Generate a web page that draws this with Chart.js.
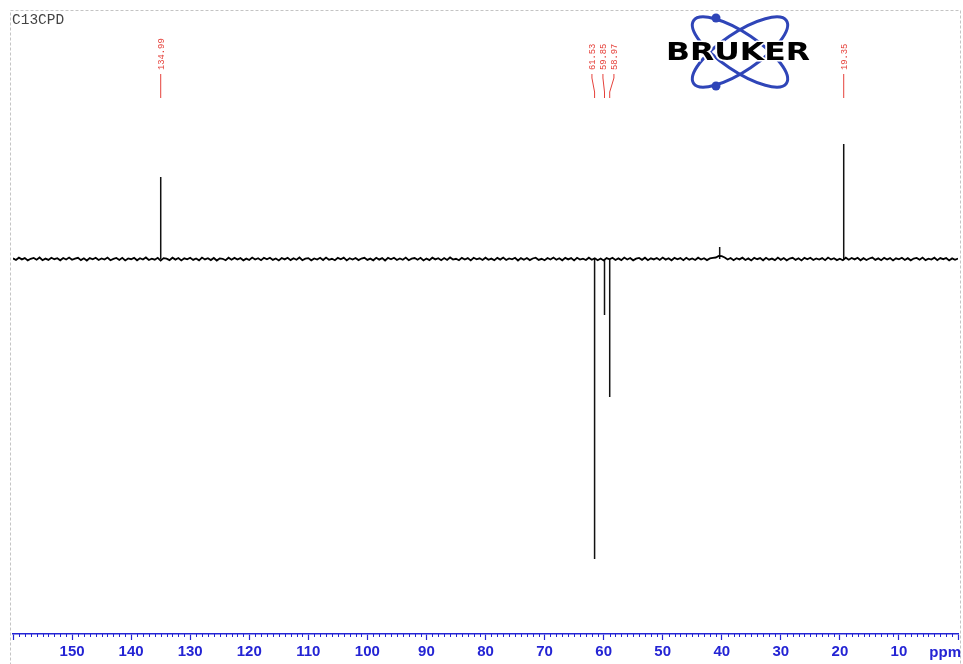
<!DOCTYPE html>
<html>
<head>
<meta charset="utf-8">
<script src="https://cdn.jsdelivr.net/npm/chart.js@4.4.1/dist/chart.umd.min.js"></script>
<style>
  html, body { margin: 0; padding: 0; background: #fff; }
  canvas { display: block; }
</style>
</head>
<body>
<canvas id="nmr" width="963" height="664"></canvas>
<script>
// axis range in ppm (drawn reversed, high ppm on the left)
const ppmMin = 0;
const ppmMax = 160;
const tickLabels = [150, 140, 130, 120, 110, 100, 90, 80, 70, 60, 50, 40, 30, 20, 10];

// picked peaks (positive = CH/CH3, negative = CH2)
const peakPpm = [134.99, 61.53, 59.85, 58.97, 19.35];
const peakHeight = [8.2, -30.0, -5.6, -13.8, 11.5];
const peakLabels = ["134.99", "61.53", "59.85", "58.97", "19.35"];

// small unlabelled solvent signal
const solventPpm = [40.35];
const solventHeight = [1.2];

// baseline, one value per 0.5 ppm from 160 down to 0
const baseStart = 160;
const baseStep = 0.5;
const baseline = [
  0.06, -0.10, 0.13, -0.04, 0.09, -0.14, 0.02, 0.11, -0.07, 0.15, -0.12, 0.04, -0.09, 0.12, -0.02, 0.08, -0.13, 0.10, -0.05, 0.14,
  -0.08, 0.03, 0.12, -0.11, 0.07, -0.15, 0.09, -0.03, 0.13, -0.10, 0.05, -0.06, 0.14, -0.12, 0.01, 0.10, -0.09, 0.12, -0.14, 0.06,
  -0.02, 0.11, -0.13, 0.08, -0.05, 0.15, -0.10, 0.03, -0.07, 0.12, -0.16, 0.09, 0.04, -0.11, 0.13, -0.06, 0.10, -0.14, 0.07, -0.03,
  0.12, -0.09, 0.05, -0.13, 0.14, -0.04, 0.08, -0.11, 0.10, -0.15, 0.06, 0.02, -0.12, 0.13, -0.07, 0.11, -0.05, 0.09, -0.13, 0.04,
  -0.10, 0.14, -0.06, 0.07, -0.12, 0.11, -0.02, 0.13, -0.09, 0.05, -0.14, 0.10, -0.04, 0.12, -0.11, 0.08, -0.07, 0.15, -0.12, 0.03,
  0.09, -0.13, 0.06, -0.05, 0.12, -0.10, 0.14, -0.08, 0.02, -0.12, 0.11, -0.03, 0.13, -0.14, 0.07, -0.06, 0.10, -0.11, 0.05, 0.12,
  -0.09, 0.04, -0.13, 0.12, -0.06, 0.09, -0.15, 0.11, -0.02, 0.13, -0.10, 0.06, -0.08, 0.14, -0.12, 0.03, 0.10, -0.07, 0.12, -0.14,
  0.05, -0.11, 0.13, -0.04, 0.08, -0.12, 0.10, -0.09, 0.15, -0.06, 0.02, -0.13, 0.11, -0.05, 0.09, -0.14, 0.12, -0.03, 0.07, -0.10,
  0.13, -0.08, 0.04, -0.12, 0.11, -0.06, 0.14, -0.10, 0.06, -0.03, 0.12, -0.15, 0.09, -0.07, 0.10, -0.11, 0.05, 0.13, -0.09, 0.02,
  -0.12, 0.10, -0.05, 0.14, -0.08, 0.07, -0.13, 0.11, -0.04, 0.09, -0.14, 0.12, -0.06, 0.03, -0.10, 0.13, -0.07, 0.08, -0.12, 0.05,
  -0.15, 0.09, -0.03, 0.12, -0.10, 0.06, -0.11, 0.14, -0.05, 0.10, -0.13, 0.04, 0.11, -0.08, 0.13, -0.12, 0.07, -0.04, 0.10, -0.09,
  0.14, -0.06, 0.08, -0.13, 0.11, -0.03, 0.09, -0.12, 0.12, -0.07, 0.05, -0.10, 0.13, -0.05, 0.08, -0.11, 0.06, 0.12, 0.15, 0.30,
  0.28, 0.15, -0.05, 0.10, -0.12, 0.08, -0.04, 0.13, -0.10, 0.06, -0.14, 0.11, -0.02, 0.09, -0.13, 0.12, -0.07, 0.04, -0.11, 0.14,
  -0.08, 0.10, -0.13, 0.05, 0.12, -0.09, 0.07, -0.14, 0.11, -0.03, 0.13, -0.10, 0.06, -0.06, 0.09, -0.12, 0.14, -0.05, 0.08, -0.11,
  0.03, -0.12, 0.13, -0.07, 0.10, -0.04, 0.12, -0.13, 0.08, -0.10, 0.05, 0.14, -0.09, 0.06, -0.12, 0.11, -0.05, 0.09, -0.14, 0.07,
  -0.03, 0.12, -0.10, 0.08, -0.13, 0.05, 0.11, -0.07, 0.14, -0.11, 0.04, -0.06, 0.13, -0.12, 0.09, -0.02, 0.10, -0.14, 0.06, -0.08,
  0.04
];

const axisBlue = "#2424d4";
const labelRed = "#e5403a";

const baselinePoints = baseline.map((v, i) => ({ x: baseStart - i * baseStep, y: v }));

// each signal is a stick from 0 to its height, separated by a gap
const stickPoints = [];
peakPpm.concat(solventPpm).forEach((p, i) => {
  const h = peakHeight.concat(solventHeight)[i];
  stickPoints.push({ x: p, y: 0 }, { x: p, y: h }, { x: p, y: null });
});

// spread the peak labels so they do not overlap
function labelPositions(scale) {
  const items = peakPpm.map((p, i) => ({ i, px: scale.getPixelForValue(p) }))
    .sort((a, b) => a.px - b.px);
  const gap = 11;
  const groups = [];
  items.forEach(it => {
    const g = groups[groups.length - 1];
    if (g && it.px - g[g.length - 1].px < gap) g.push(it);
    else groups.push([it]);
  });
  const out = [];
  groups.forEach(g => {
    const mean = g.reduce((s, it) => s + it.px, 0) / g.length;
    g.forEach((it, k) => {
      out[it.i] = { peak: it.px, label: mean + (k - (g.length - 1) / 2) * gap };
    });
  });
  return out;
}

function drawLogo(ctx) {
  const cx = 740, cy = 52, a = 56, b = 19, th = 34 * Math.PI / 180;
  ctx.save();
  ctx.strokeStyle = "#2f45b8";
  ctx.lineWidth = 3;
  [th, -th].forEach(r => {
    ctx.beginPath();
    ctx.ellipse(cx, cy, a, b, r, 0, Math.PI * 2);
    ctx.stroke();
  });
  ctx.fillStyle = "#2f45b8";
  [[716, 18], [716, 86]].forEach(([x, y]) => {
    ctx.beginPath();
    ctx.arc(x, y, 4.5, 0, Math.PI * 2);
    ctx.fill();
  });
  ctx.font = "bold 25px 'DejaVu Sans'";
  const w = ctx.measureText("BRUKER").width;
  ctx.translate(666, cy);
  ctx.scale(144 / w, 1);
  ctx.textBaseline = "middle";
  ctx.textAlign = "left";
  ctx.lineWidth = 3;
  ctx.strokeStyle = "#fff";
  ctx.strokeText("BRUKER", 0, 1);
  ctx.fillStyle = "#000";
  ctx.fillText("BRUKER", 0, 1);
  ctx.restore();
}

const decorations = {
  id: "decorations",
  afterDraw(chart) {
    const ctx = chart.ctx;
    const xs = chart.scales.x;
    const area = chart.chartArea;
    ctx.save();

    // dashed page frame
    ctx.setLineDash([3, 2]);
    ctx.strokeStyle = "#c4c4c4";
    ctx.lineWidth = 1;
    ctx.strokeRect(10.5, 10.5, 950, 670);
    ctx.setLineDash([]);

    // experiment name
    ctx.fillStyle = "#444";
    ctx.font = "14.5px 'Liberation Mono'";
    ctx.textBaseline = "alphabetic";
    ctx.fillText("C13CPD", 12, 24);

    // minor ticks every 1 ppm
    ctx.strokeStyle = axisBlue;
    ctx.lineWidth = 1;
    for (let v = ppmMin + 1; v < ppmMax; v++) {
      if (v % 10 === 0) continue;
      const px = Math.round(xs.getPixelForValue(v)) + 0.5;
      ctx.beginPath();
      ctx.moveTo(px, area.bottom);
      ctx.lineTo(px, area.bottom + 3);
      ctx.stroke();
    }

    // unit label
    ctx.fillStyle = axisBlue;
    ctx.font = "bold 15px 'Liberation Sans'";
    ctx.textAlign = "right";
    ctx.fillText("ppm", 961, 657);

    // peak labels
    const pos = labelPositions(xs);
    ctx.strokeStyle = labelRed;
    ctx.fillStyle = labelRed;
    ctx.lineWidth = 1;
    ctx.font = "8.8px 'Liberation Mono'";
    pos.forEach((p, i) => {
      ctx.beginPath();
      ctx.moveTo(p.label, 74);
      ctx.lineTo(p.label, 78);
      ctx.lineTo(p.peak, 92);
      ctx.lineTo(p.peak, 98);
      ctx.stroke();
      ctx.save();
      ctx.translate(p.label + 3, 70);
      ctx.rotate(-Math.PI / 2);
      ctx.textAlign = "left";
      ctx.textBaseline = "alphabetic";
      ctx.fillText(peakLabels[i], 0, 0);
      ctx.restore();
    });

    drawLogo(ctx);
    ctx.restore();
  }
};

new Chart(document.getElementById("nmr"), {
  type: "line",
  data: {
    datasets: [
      {
        data: baselinePoints,
        borderColor: "#000",
        borderWidth: 1.8,
        pointRadius: 0,
        tension: 0
      },
      {
        data: stickPoints,
        borderColor: "#111",
        borderWidth: 1.5,
        pointRadius: 0,
        spanGaps: false,
        tension: 0
      }
    ]
  },
  options: {
    responsive: false,
    animation: false,
    devicePixelRatio: 1,
    layout: { padding: { left: 13, right: 5, top: 10, bottom: 0 } },
    plugins: { legend: { display: false }, tooltip: { enabled: false } },
    scales: {
      x: {
        type: "linear",
        reverse: true,
        min: ppmMin,
        max: ppmMax,
        afterFit(scale) { scale.height = 30; },
        border: { color: axisBlue, width: 1.5 },
        grid: { drawOnChartArea: false, color: axisBlue, tickLength: 6, tickWidth: 1.2 },
        ticks: {
          stepSize: 10,
          autoSkip: false,
          maxRotation: 0,
          padding: 3,
          color: axisBlue,
          font: { family: "'Liberation Sans'", size: 15, weight: "bold" },
          callback: v => tickLabels.includes(v) ? String(v) : ""
        }
      },
      y: { display: false, min: -37.5, max: 24.9 }
    }
  },
  plugins: [decorations]
});
</script>
</body>
</html>
